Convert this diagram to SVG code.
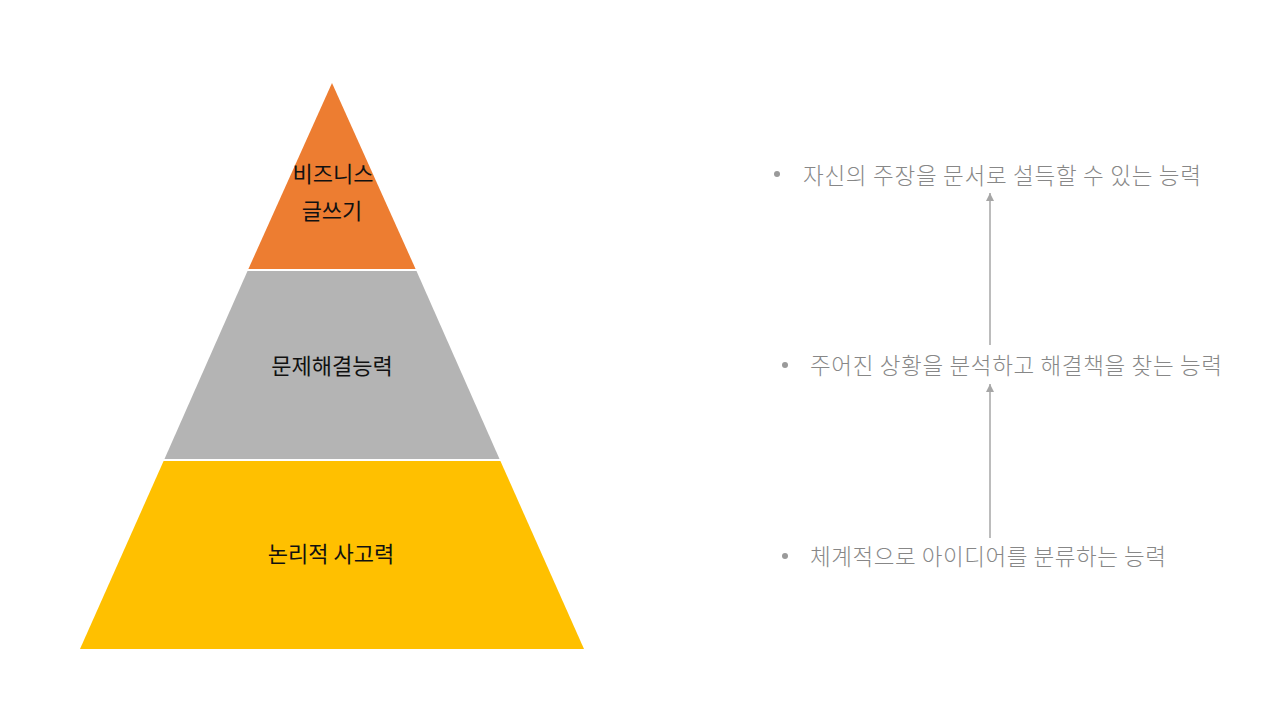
<svg xmlns="http://www.w3.org/2000/svg" width="1280" height="720" viewBox="0 0 1280 720">
<style>
.lbl{font-family:"Noto Sans CJK KR","Noto Sans",sans-serif;font-size:22px;fill:#111;text-anchor:middle}
.desc{font-family:"Noto Sans CJK KR","Noto Sans",sans-serif;font-size:22.5px;font-weight:300;fill:#878787}
.bul{fill:#9a9a9a}
.conn{stroke:#a6a6a6;stroke-width:1.5;fill:none}
</style>
<defs>
<marker id="ah" viewBox="0 0 10 10" refX="10" refY="5" markerWidth="8" markerHeight="8" markerUnits="userSpaceOnUse" orient="auto">
<path d="M0,0 L10,5 L0,10 Z" fill="#a6a6a6"/>
</marker>
</defs>
<rect width="1280" height="720" fill="#fff"/>
<g id="tier-top">
<polygon points="332,83 415.6,269 248.4,269" fill="#ED7D31"/>
<text class="lbl" x="333" y="182">비즈니스</text>
<text class="lbl" x="332" y="219">글쓰기</text>
</g>
<g id="tier-mid">
<polygon points="247.5,271 416.5,271 499.5,459 164.5,459" fill="#B4B4B4"/>
<text class="lbl" x="332" y="374">문제해결능력</text>
</g>
<g id="tier-bottom">
<polygon points="163.6,461 500.4,461 584,649 80,649" fill="#FFC000"/>
<text class="lbl" x="331" y="562">논리적 사고력</text>
</g>
<g id="item-top">
<circle class="bul" cx="777" cy="174" r="3"/>
<text class="desc" x="803" y="184" textLength="398" lengthAdjust="spacing">자신의 주장을 문서로 설득할 수 있는 능력</text>
</g>
<g id="item-mid">
<circle class="bul" cx="785" cy="365" r="3"/>
<text class="desc" x="810" y="374" textLength="412" lengthAdjust="spacing">주어진 상황을 분석하고 해결책을 찾는 능력</text>
</g>
<g id="item-bottom">
<circle class="bul" cx="785" cy="556" r="3"/>
<text class="desc" x="810" y="565" textLength="356" lengthAdjust="spacing">체계적으로 아이디어를 분류하는 능력</text>
</g>
<g id="connectors">
<line class="conn" x1="990" y1="345" x2="990" y2="193" marker-end="url(#ah)"/>
<line class="conn" x1="990" y1="538" x2="990" y2="384" marker-end="url(#ah)"/>
</g>
</svg>
